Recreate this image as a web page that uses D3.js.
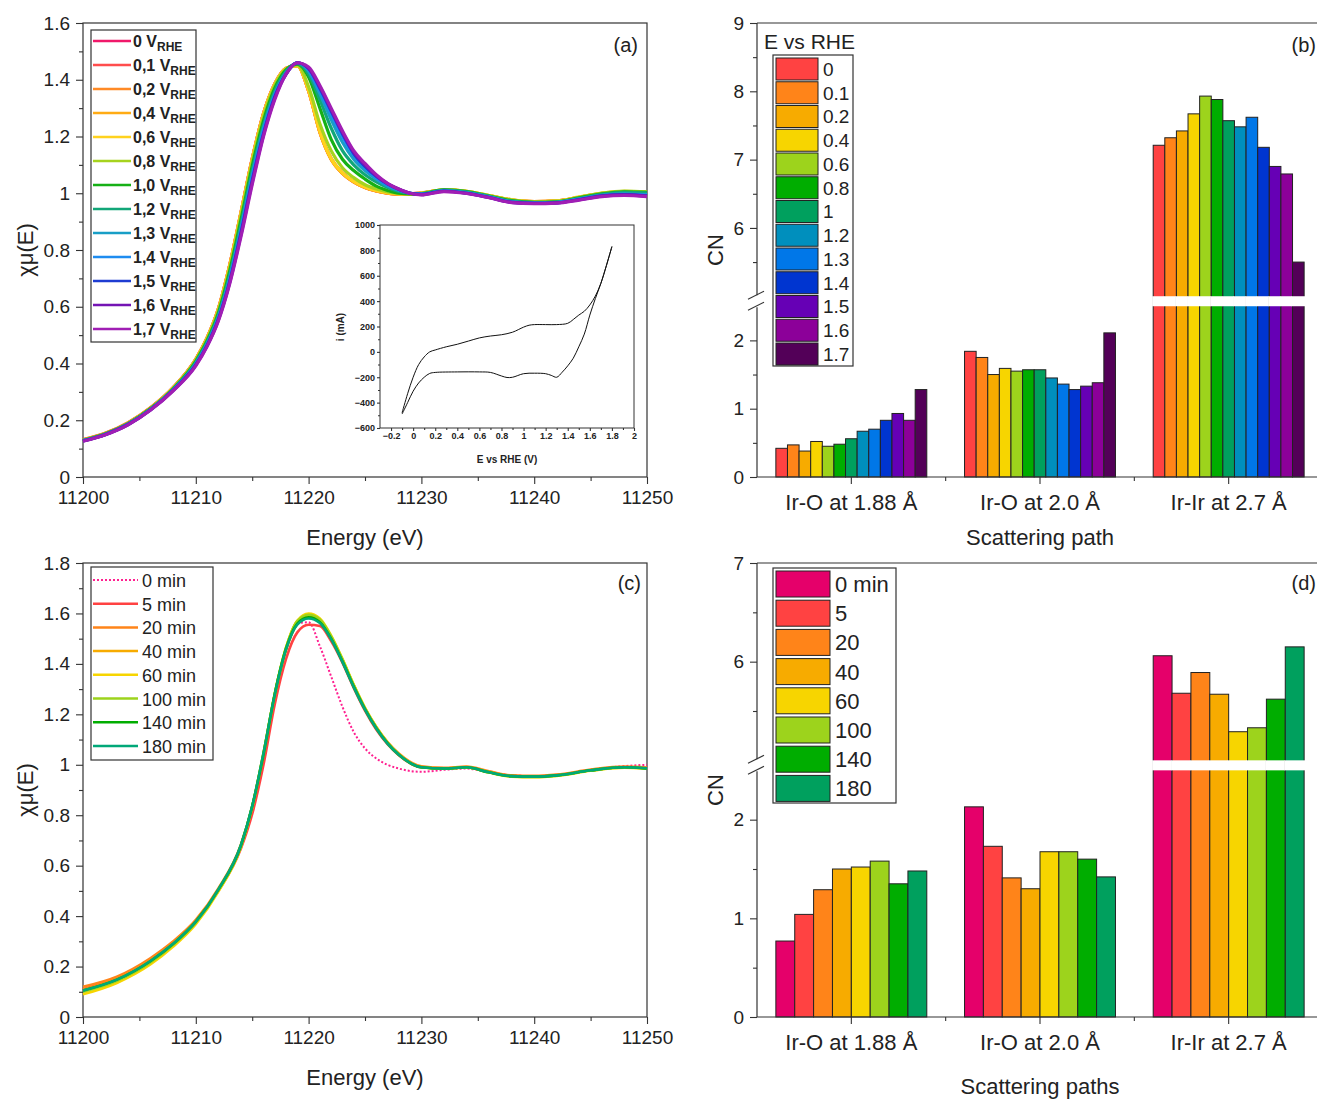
<!DOCTYPE html>
<html>
<head>
<meta charset="utf-8">
<script src="https://cdn.jsdelivr.net/npm/d3@7"></script>
<style>
body { margin: 0; background: #fff; }
svg { display: block; }
text { font-family: "Liberation Sans", Arial, sans-serif; fill: #222; }
</style>
</head>
<body>
<script>
// ---------- panel (a): XANES vs potential ----------
var energiesA = [11200,11202,11204,11206,11208,11210,11211,11212,11213,11214,11215,11216,11217,11218,11219,11220,11221,11222,11223,11224,11225,11226,11227,11228,11229,11230,11232,11234,11236,11238,11240,11242,11244,11246,11248,11250];

var mu_0V  = [.130,.153,.190,.243,.315,.415,.490,.592,.745,.930,1.120,1.280,1.385,1.440,1.450,1.360,1.215,1.120,1.070,1.040,1.020,1.008,1.000,.996,.997,1.000,1.010,1.005,.990,.975,.970,.972,.985,.998,1.004,1.000];
var mu_01V = [.132,.155,.192,.245,.316,.416,.491,.594,.747,.932,1.122,1.281,1.386,1.441,1.451,1.362,1.218,1.122,1.072,1.041,1.021,1.009,1.001,.997,.998,1.001,1.011,1.006,.991,.976,.971,.973,.986,.999,1.005,1.001];
var mu_02V = [.131,.154,.191,.244,.315,.415,.490,.592,.746,.931,1.121,1.280,1.385,1.440,1.450,1.361,1.216,1.121,1.071,1.040,1.020,1.008,1.000,.996,.997,1.000,1.011,1.006,.991,.976,.970,.972,.985,.999,1.005,1.002];
var mu_04V = [.130,.153,.190,.243,.314,.414,.489,.591,.744,.929,1.119,1.279,1.384,1.440,1.449,1.360,1.214,1.119,1.070,1.040,1.020,1.008,1.000,.996,.997,1.000,1.012,1.007,.992,.977,.971,.973,.986,1.000,1.006,1.003];
var mu_06V = [.129,.152,.189,.242,.314,.414,.489,.590,.743,.928,1.118,1.278,1.384,1.440,1.450,1.362,1.218,1.122,1.072,1.042,1.022,1.010,1.002,.998,.998,1.001,1.012,1.007,.992,.977,.971,.973,.987,1.001,1.007,1.004];
var mu_08V = [.129,.152,.189,.242,.313,.412,.486,.586,.735,.920,1.110,1.270,1.380,1.438,1.452,1.375,1.245,1.150,1.090,1.055,1.030,1.015,1.005,1.000,.998,1.000,1.012,1.007,.992,.976,.970,.972,.986,1.001,1.008,1.005];
var mu_10V = [.129,.152,.188,.241,.311,.408,.480,.578,.725,.905,1.095,1.255,1.370,1.435,1.455,1.410,1.300,1.190,1.120,1.080,1.050,1.025,1.010,1.000,.998,.999,1.012,1.006,.990,.974,.968,.970,.984,.998,1.005,1.003];
var mu_12V = [.128,.151,.187,.240,.309,.404,.475,.570,.712,.890,1.080,1.240,1.360,1.430,1.458,1.420,1.330,1.230,1.150,1.100,1.065,1.040,1.020,1.006,1.000,.998,1.011,1.005,.989,.972,.967,.969,.982,.996,1.003,1.001];
var mu_13V = [.128,.151,.186,.239,.308,.400,.470,.564,.702,.877,1.065,1.230,1.350,1.425,1.460,1.430,1.350,1.260,1.180,1.120,1.080,1.050,1.025,1.010,1.000,.998,1.009,1.002,.987,.970,.966,.968,.980,.993,.998,.995];
var mu_14V = [.128,.150,.186,.238,.307,.398,.467,.560,.695,.868,1.055,1.220,1.345,1.422,1.460,1.435,1.360,1.280,1.200,1.135,1.090,1.055,1.030,1.012,1.000,.997,1.008,1.001,.986,.969,.965,.967,.979,.992,.996,.993];
var mu_15V = [.127,.150,.185,.237,.306,.395,.464,.556,.688,.860,1.045,1.210,1.340,1.420,1.460,1.440,1.370,1.290,1.210,1.140,1.095,1.060,1.033,1.014,1.000,.996,1.008,1.000,.985,.968,.964,.966,.978,.991,.995,.991];
var mu_16V = [.127,.150,.185,.237,.305,.394,.462,.553,.684,.853,1.038,1.205,1.335,1.420,1.460,1.440,1.375,1.295,1.215,1.145,1.100,1.062,1.034,1.014,1.000,.995,1.007,1.000,.985,.968,.964,.966,.977,.990,.994,.990];
var mu_17V = [.126,.149,.184,.236,.304,.392,.460,.550,.680,.846,1.030,1.200,1.330,1.420,1.460,1.445,1.380,1.300,1.220,1.150,1.105,1.065,1.035,1.015,1.000,.994,1.006,.999,.984,.967,.963,.965,.976,.988,.992,.988];

var potentialLabels = ["0","0,1","0,2","0,4","0,6","0,8","1,0","1,2","1,3","1,4","1,5","1,6","1,7"];
var potentialLineColors = ["#f0186a","#ff4d4d","#ff8a26","#ffab14","#ffd21e","#a6d31e","#16b016","#12a678","#189ec6","#1e8cf0","#1e3cd2","#7414b4","#a01eb4"];

// inset cyclic voltammogram
var cvAnodicE   = [-0.1,-0.05,0,0.05,0.1,0.15,0.2,0.3,0.4,0.5,0.6,0.7,0.8,0.9,1.0,1.05,1.1,1.2,1.3,1.4,1.45,1.5,1.55,1.6,1.65,1.7,1.75,1.8];
var cvAnodicI   = [-480,-330,-200,-100,-40,0,15,40,60,85,110,125,135,155,195,210,215,215,215,225,255,290,320,370,440,540,680,830];
var cvCathodicE = [1.8,1.75,1.7,1.65,1.6,1.55,1.5,1.45,1.4,1.35,1.3,1.25,1.2,1.1,1.0,0.9,0.85,0.8,0.7,0.6,0.4,0.2,0.15,0.1,0.05,0,-0.05,-0.1];
var cvCathodicI = [830,680,540,420,290,140,40,-50,-110,-160,-200,-185,-172,-168,-172,-200,-202,-190,-162,-158,-158,-162,-170,-200,-245,-310,-400,-490];

// ---------- panel (b): CN vs potential ----------
var paths = ["Ir-O at 1.88 \u00c5", "Ir-O at 2.0 \u00c5", "Ir-Ir at 2.7 \u00c5"];
var potentials = ["0","0.1","0.2","0.4","0.6","0.8","1","1.2","1.3","1.4","1.5","1.6","1.7"];
var cnIrO188 = [0.42,0.47,0.38,0.52,0.45,0.48,0.56,0.67,0.70,0.83,0.93,0.83,1.28];
var cnIrO20  = [1.84,1.75,1.50,1.59,1.55,1.57,1.57,1.45,1.36,1.28,1.33,1.38,2.11];
var cnIrIr27 = [7.21,7.32,7.42,7.67,7.93,7.88,7.57,7.48,7.62,7.18,6.90,6.79,5.50];
var potentialBarColors = ["#ff4242","#ff8419","#f7ab00","#f7d500","#9dd31c","#00ad00","#00a05e","#008fbd","#0077e8","#0035d0","#6600b5","#8c0099","#530058"];

// ---------- panel (c): XANES vs time ----------
var energiesC = [11200,11203,11206,11208,11210,11212,11214,11215,11216,11217,11218,11219,11220,11221,11222,11223,11224,11225,11226,11227,11228,11230,11232,11234,11236,11238,11240,11242,11245,11248,11250];
var mu_0min   = [.110,.152,.225,.293,.381,.507,.682,.830,1.035,1.275,1.460,1.560,1.565,1.470,1.350,1.230,1.130,1.065,1.025,1.000,.985,.972,.980,.985,.970,.958,.955,.960,.980,.995,1.000];
var mu_5min   = [.110,.156,.229,.296,.380,.500,.668,.805,1.000,1.240,1.420,1.525,1.555,1.550,1.490,1.405,1.305,1.215,1.140,1.082,1.038,.990,.986,.990,.972,.956,.954,.959,.978,.990,.987];
var mu_20min  = [.120,.160,.234,.300,.385,.510,.683,.832,1.040,1.275,1.455,1.560,1.585,1.570,1.505,1.415,1.315,1.225,1.150,1.090,1.045,.994,.988,.993,.974,.958,.956,.961,.981,.993,.989];
var mu_40min  = [.108,.150,.224,.291,.378,.505,.680,.835,1.045,1.280,1.462,1.568,1.590,1.572,1.506,1.415,1.314,1.222,1.146,1.086,1.041,.991,.986,.991,.971,.955,.953,.958,.978,.990,.986];
var mu_60min  = [.090,.135,.209,.279,.368,.497,.675,.832,1.045,1.282,1.465,1.572,1.600,1.580,1.512,1.420,1.318,1.226,1.150,1.088,1.042,.990,.984,.989,.969,.953,.951,.956,.976,.988,.984];
var mu_100min = [.100,.143,.217,.286,.374,.502,.678,.834,1.046,1.282,1.464,1.570,1.595,1.576,1.509,1.418,1.316,1.224,1.148,1.087,1.041,.990,.985,.990,.970,.954,.952,.957,.977,.989,.985];
var mu_140min = [.105,.148,.222,.290,.378,.505,.680,.835,1.040,1.280,1.460,1.560,1.585,1.565,1.500,1.410,1.310,1.220,1.145,1.085,1.040,.990,.985,.990,.970,.955,.953,.958,.978,.990,.985];
var mu_180min = [.105,.148,.223,.291,.378,.506,.682,.836,1.046,1.279,1.458,1.556,1.580,1.562,1.498,1.408,1.308,1.219,1.144,1.084,1.040,.990,.985,.990,.970,.955,.953,.958,.978,.990,.986];
var timeLabels = ["0 min","5 min","20 min","40 min","60 min","100 min","140 min","180 min"];
var timeLineColors = ["#ff2090","#ff4242","#ff8419","#f7ab00","#f7d500","#9dd31c","#00ad00","#00a878"];

// ---------- panel (d): CN vs time ----------
var times = ["0 min","5","20","40","60","100","140","180"];
var cnTimeIrO188 = [0.77,1.04,1.29,1.50,1.52,1.58,1.35,1.48];
var cnTimeIrO20  = [2.13,1.73,1.41,1.30,1.675,1.675,1.60,1.42];
var cnTimeIrIr27 = [6.06,5.68,5.89,5.67,5.29,5.33,5.62,6.15];
var timeBarColors = ["#e5006a","#ff4242","#ff8419","#f7ab00","#f7d500","#9dd31c","#00ad00","#00a05e"];

var NARROW = "'Liberation Sans Narrow', 'Arial Narrow', 'Liberation Sans', sans-serif";

var svg = d3.select("body").append("svg").attr("width", 1317).attr("height", 1100);

function fmt1(d) {
  var v = +d.toFixed(1);
  return (v < 0 ? "\u2212" : "") + Math.abs(v);
}

function axisG(axisFn, scale, values, size, pad, fmt, pos, fontSize, bold) {
  var g = svg.append("g").attr("transform", pos);
  g.call(axisFn(scale).tickValues(values).tickSize(size).tickSizeOuter(0).tickPadding(pad).tickFormat(fmt || function() { return ""; }));
  g.select(".domain").remove();
  g.selectAll(".tick line").attr("stroke", "#333").attr("stroke-width", 1.1);
  g.selectAll(".tick text").attr("fill", "#222")
    .style("font-size", (fontSize || 19) + "px")
    .style("font-family", "'Liberation Sans', Arial, sans-serif")
    .style("font-weight", bold ? "bold" : "normal");
  return g;
}

function line(x1, y1, x2, y2, w) {
  svg.append("line").attr("x1", x1).attr("y1", y1).attr("x2", x2).attr("y2", y2)
    .attr("stroke", "#333").attr("stroke-width", w || 1.2);
}

function label(x, y, txt, size, anchor, rot) {
  var t = svg.append("text").attr("x", x).attr("y", y).style("font-size", size + "px")
    .attr("text-anchor", anchor || "middle").text(txt);
  if (rot) t.attr("transform", "rotate(-90," + x + "," + y + ")");
  return t;
}

// ============ spectra panels ============
function spectraPanel(top, bottom, yMax, energies, series, colors, widths, dashes) {
  var x = d3.scaleLinear().domain([11200, 11250]).range([83, 647]);
  var y = d3.scaleLinear().domain([0, yMax]).range([bottom, top]);

  axisG(d3.axisBottom, x, d3.range(11200, 11251, 10), 7, 7, d3.format("d"), "translate(0," + bottom + ")");
  axisG(d3.axisBottom, x, d3.range(11205, 11250, 10), 4, 0, null, "translate(0," + bottom + ")");
  axisG(d3.axisLeft, y, d3.range(0, yMax + 0.01, 0.2), 7, 6, fmt1, "translate(83,0)");
  axisG(d3.axisLeft, y, d3.range(0.1, yMax, 0.2), 4, 0, null, "translate(83,0)");
  svg.append("rect").attr("x", 83).attr("y", top).attr("width", 564).attr("height", bottom - top)
    .attr("fill", "none").attr("stroke", "#333").attr("stroke-width", 1.2);

  var gen = d3.line().x(function(d) { return x(d[0]); }).y(function(d) { return y(d[1]); }).curve(d3.curveMonotoneX);
  series.forEach(function(vals, i) {
    svg.append("path").datum(energies.map(function(e, k) { return [e, vals[k]]; }))
      .attr("d", gen).attr("fill", "none").attr("stroke", colors[i])
      .attr("stroke-width", widths[i]).attr("stroke-dasharray", dashes ? dashes[i] : null)
      .attr("stroke-linejoin", "round");
  });
  return { x: x, y: y };
}

// panel (a)
var spectraA = [mu_0V, mu_01V, mu_02V, mu_04V, mu_06V, mu_08V, mu_10V, mu_12V, mu_13V, mu_14V, mu_15V, mu_16V, mu_17V];
spectraPanel(23, 477, 1.6, energiesA, spectraA, potentialLineColors, spectraA.map(function() { return 3.2; }));
label(365, 545, "Energy (eV)", 22);
label(33, 250, "\u03c7\u03bc(E)", 22, "middle", true);
label(638, 52, "(a)", 20, "end");

var legA = svg.append("g");
legA.append("rect").attr("x", 91).attr("y", 30).attr("width", 105).attr("height", 312)
  .attr("fill", "#fff").attr("stroke", "#333").attr("stroke-width", 1.2);
potentialLabels.forEach(function(lab, i) {
  var yy = 41 + i * 24;
  legA.append("line").attr("x1", 93).attr("x2", 131).attr("y1", yy).attr("y2", yy)
    .attr("stroke", potentialLineColors[i]).attr("stroke-width", 2.5);
  var t = legA.append("text").attr("x", 133).attr("y", yy + 6)
    .style("font-family", NARROW).style("font-weight", "bold").style("font-size", "16px");
  t.append("tspan").text(lab + " V");
  t.append("tspan").attr("dy", 4).style("font-size", "12px").text("RHE");
});

// inset CV
var xIn = d3.scaleLinear().domain([-0.3, 2]).range([380, 634]);
var yIn = d3.scaleLinear().domain([-600, 1000]).range([428, 225]);
axisG(d3.axisBottom, xIn, d3.range(-0.2, 2.01, 0.2), 3, 2, fmt1, "translate(0,428)", 9, true);
axisG(d3.axisBottom, xIn, d3.range(-0.1, 2.0, 0.2), 2, 0, null, "translate(0,428)");
axisG(d3.axisLeft, yIn, d3.range(-600, 1001, 200), 3, 2, fmt1, "translate(380,0)", 9, true);
axisG(d3.axisLeft, yIn, d3.range(-500, 1000, 200), 2, 0, null, "translate(380,0)");
svg.append("rect").attr("x", 380).attr("y", 225).attr("width", 254).attr("height", 203)
  .attr("fill", "none").attr("stroke", "#333").attr("stroke-width", 1);
var cvLine = d3.line().x(function(d) { return xIn(d[0]); }).y(function(d) { return yIn(d[1]); }).curve(d3.curveCatmullRom);
[[cvAnodicE, cvAnodicI], [cvCathodicE, cvCathodicI]].forEach(function(b) {
  svg.append("path").datum(b[0].map(function(e, k) { return [e, b[1][k]]; }))
    .attr("d", cvLine).attr("fill", "none").attr("stroke", "#111").attr("stroke-width", 1);
});
label(507, 463, "E vs RHE (V)", 10).style("font-weight", "bold");
label(344, 327, "i (mA)", 10, "middle", true).style("font-weight", "bold");

// panel (c)
var spectraC = [mu_0min, mu_5min, mu_20min, mu_40min, mu_60min, mu_100min, mu_140min, mu_180min];
spectraPanel(563, 1017, 1.8, energiesC, spectraC, timeLineColors,
  [2, 2.6, 2.6, 2.6, 2.6, 2.6, 2.6, 2.6], ["2,2", null, null, null, null, null, null, null]);
label(365, 1085, "Energy (eV)", 22);
label(33, 790, "\u03c7\u03bc(E)", 22, "middle", true);
label(641, 590, "(c)", 20, "end");

var legC = svg.append("g");
legC.append("rect").attr("x", 91).attr("y", 567).attr("width", 122).attr("height", 193)
  .attr("fill", "#fff").attr("stroke", "#333").attr("stroke-width", 1.2);
timeLabels.forEach(function(lab, i) {
  var yy = 580 + i * 23.7;
  legC.append("line").attr("x1", 93).attr("x2", 138).attr("y1", yy).attr("y2", yy)
    .attr("stroke", timeLineColors[i]).attr("stroke-width", i == 0 ? 2 : 2.5)
    .attr("stroke-dasharray", i == 0 ? "2,2" : null);
  legC.append("text").attr("x", 142).attr("y", yy + 7).style("font-size", "18px").text(lab);
});

// ============ bar panels with broken axis ============
function barPanel(top, bottom, yUpMax, groups, names, colors) {
  var gap = 10;
  var unit = (bottom - top - gap) / (2.5 + yUpMax - 5);
  var y = d3.scaleLinear().domain([0, 2.5, 5, yUpMax])
    .range([bottom, bottom - 2.5 * unit, bottom - 2.5 * unit - gap, top]);
  var x0 = d3.scaleBand().domain(paths).range([757, 1323]).paddingInner(0.2).paddingOuter(0.1);
  var x1 = d3.scaleBand().domain(names).range([0, x0.bandwidth()]);
  var gapLo = y(2.5), gapHi = y(5);

  groups.forEach(function(vals, gi) {
    vals.forEach(function(v, i) {
      var bx = x0(paths[gi]) + x1(names[i]);
      svg.append("rect").attr("x", bx).attr("y", y(v)).attr("width", x1.bandwidth()).attr("height", y(0) - y(v))
        .attr("fill", colors[i]).attr("stroke", "#222").attr("stroke-width", 1);
      if (v > 2.5) {
        svg.append("rect").attr("x", bx - 1).attr("y", gapHi).attr("width", x1.bandwidth() + 2).attr("height", gapLo - gapHi)
          .attr("fill", "#fff");
      }
    });
  });

  var upTicks = d3.range(6, yUpMax + 0.1, 1);
  var upMinor = d3.range(5.5, yUpMax, 1);
  axisG(d3.axisLeft, y, [0, 1, 2].concat(upTicks), 7, 6, fmt1, "translate(757,0)");
  axisG(d3.axisLeft, y, [0.5, 1.5].concat(upMinor), 4, 0, null, "translate(757,0)");
  axisG(d3.axisBottom, x0, paths, 7, 10, null, "translate(0," + bottom + ")", 22)
    .selectAll(".tick text").text(function(d) { return d; });
  var half = x0.step() * x0.paddingInner() / 2;
  for (var k = 1; k < paths.length; k++) line(x0(paths[k]) - half, bottom, x0(paths[k]) - half, bottom + 4, 1.1);

  // frame, left side broken
  line(757, top, 1323, top);
  line(757, bottom, 1323, bottom);
  line(1323, top, 1323, bottom);
  line(757, top, 757, gapHi - 1);
  line(757, gapLo + 1, 757, bottom);
  line(748, gapHi + 3, 764, gapHi - 5, 1.1);
  line(748, gapLo + 4, 764, gapLo - 4, 1.1);
  return { x0: x0, y: y };
}

function barLegend(x, y, w, h, sw, shh, step, fontSize, names, colors) {
  var g = svg.append("g");
  g.append("rect").attr("x", x).attr("y", y).attr("width", w).attr("height", h)
    .attr("fill", "#fff").attr("stroke", "#333").attr("stroke-width", 1.2);
  names.forEach(function(n, i) {
    var cy = y + 3 + shh / 2 + i * step;
    g.append("rect").attr("x", x + 3).attr("y", cy - shh / 2).attr("width", sw).attr("height", shh)
      .attr("fill", colors[i]).attr("stroke", "#222").attr("stroke-width", 1);
    g.append("text").attr("x", x + sw + 8).attr("y", cy + fontSize * 0.36).style("font-size", fontSize + "px").text(n);
  });
}

// panel (b)
barPanel(23, 477, 9, [cnIrO188, cnIrO20, cnIrIr27], potentials, potentialBarColors);
label(1040, 545, "Scattering path", 22);
label(723, 250, "CN", 22, "middle", true);
label(1316, 52, "(b)", 20, "end");
label(764, 49, "E vs RHE", 21, "start");
barLegend(773, 55, 80, 311, 42, 22, 23.75, 19, potentials, potentialBarColors);

// panel (d)
barPanel(563, 1017, 7, [cnTimeIrO188, cnTimeIrO20, cnTimeIrIr27], times, timeBarColors);
label(1040, 1094, "Scattering paths", 22);
label(723, 790, "CN", 22, "middle", true);
label(1316, 590, "(d)", 20, "end");
barLegend(773, 568, 123, 235, 54, 26, 29.2, 22, times, timeBarColors);
</script>
</body>
</html>
